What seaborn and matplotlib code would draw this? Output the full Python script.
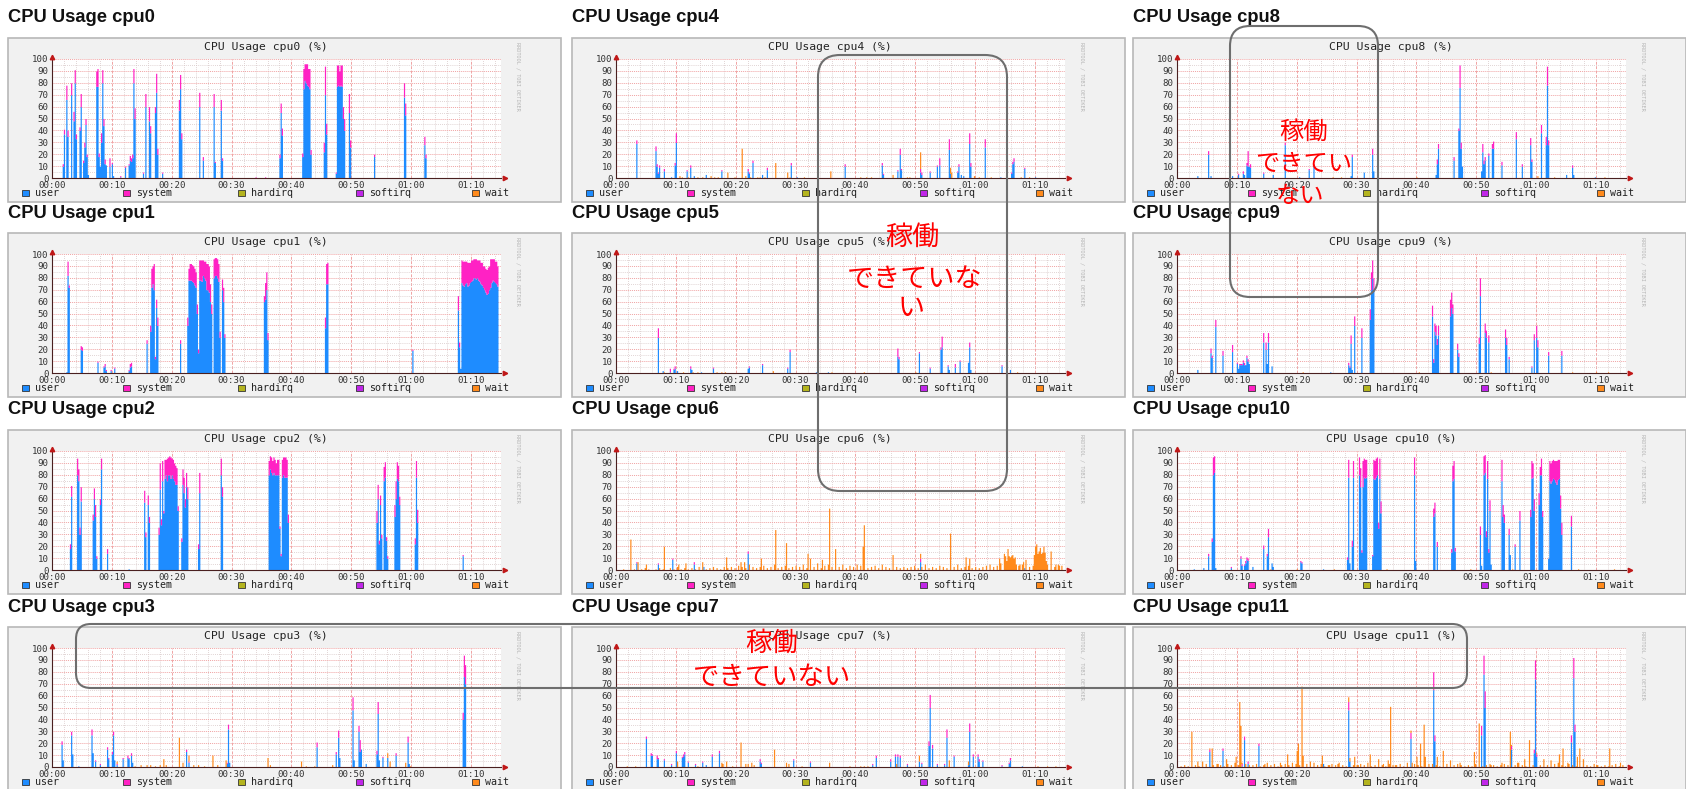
import numpy as np
import pandas as pd
import matplotlib
matplotlib.use("Agg")
import matplotlib.pyplot as plt
import seaborn as sns
from matplotlib.patches import Rectangle, FancyBboxPatch
from matplotlib.transforms import IdentityTransform

sns.set_theme(style="white")
plt.rcParams["font.family"] = ["DejaVu Sans", "Noto Sans CJK JP"]

# ---------------- data ----------------
SERIES = ["user", "system", "hardirq", "softirq", "wait"]
SERIES_COLORS = ["#1e8cff", "#ff22c4", "#b4b41e", "#c026e8", "#ff8a1c"]
X_TICKS = [0, 10, 20, 30, 40, 50, 60, 70]
X_TICK_LABELS = ["00:00", "00:10", "00:20", "00:30", "00:40", "00:50", "01:00", "01:10"]
Y_TICKS = [0, 10, 20, 30, 40, 50, 60, 70, 80, 90, 100]
NOTE_TEXT_1 = ["稼働", "できていな", "い"]
NOTE_TEXT_2 = ["稼働", "できてい", "ない"]
NOTE_TEXT_3 = ["稼働", "できていない"]

# minutes since 00:00, user %, system %
cpu0_t = [1.8, 2.0, 2.4, 2.6, 3.2, 3.6, 3.8, 4.0, 4.6, 4.8,
          5.2, 5.4, 5.6, 5.8, 6.0, 7.4, 7.6, 7.8, 8.0, 8.2,
          8.4, 8.6, 8.8, 9.0, 9.6, 10.0, 10.2, 11.4, 12.2, 12.8,
          13.0, 13.2, 13.4, 13.6, 13.8, 15.2, 15.6, 16.2, 16.4, 17.2,
          17.4, 17.6, 18.4, 21.2, 21.4, 21.6, 24.6, 25.2, 27.0, 27.2,
          28.2, 28.4, 34.0, 35.6, 38.0, 38.2, 38.4, 41.8, 42.0, 42.2,
          42.4, 42.6, 42.8, 43.0, 43.2, 45.4, 45.6, 45.8, 47.4, 47.6,
          47.8, 48.0, 48.2, 48.4, 48.6, 48.8, 49.6, 49.8, 53.8, 58.8,
          59.0, 62.2, 62.4]
cpu0_user = [10, 37, 66, 35, 70, 48, 80, 33, 40, 60,
             13, 26, 45, 18, 3, 77, 77, 18, 10, 30,
             80, 44, 12, 11, 10, 12, 2, 1, 9, 11,
             15, 14, 17, 80, 50, 4, 60, 48, 38, 55,
             72, 20, 4, 57, 75, 33, 60, 15, 60, 13,
             57, 15, 0, 0, 17, 55, 36, 18, 75, 82,
             80, 78, 77, 75, 20, 22, 70, 37, 4, 77,
             78, 77, 78, 77, 50, 40, 55, 26, 18, 68,
             53, 28, 17]
cpu0_sys = [2, 4, 12, 5, 10, 8, 11, 4, 3, 11,
            2, 4, 5, 2, 0, 13, 15, 3, 0, 8,
            11, 6, 4, 0, 7, 1, 0, 1, 1, 1,
            4, 3, 3, 12, 9, 1, 11, 12, 6, 5,
            16, 5, 1, 9, 12, 5, 12, 3, 11, 1,
            9, 2, 1, 1, 3, 8, 6, 3, 17, 14,
            16, 18, 15, 17, 4, 8, 24, 9, 1, 18,
            17, 13, 17, 18, 10, 10, 16, 6, 2, 12,
            10, 7, 3]
cpu0_wait_t = []
cpu0_wait = []

cpu1_t = [2.4, 2.6, 2.8, 4.8, 5.0, 7.6, 8.6, 8.8, 9.0, 9.8,
          10.4, 12.8, 13.0, 13.2, 15.8, 16.4, 16.6, 16.8, 17.0, 17.2,
          17.4, 17.6, 21.4, 22.6, 22.8, 23.0, 23.2, 23.4, 23.6, 23.8,
          24.0, 24.2, 24.4, 24.6, 24.8, 25.0, 25.2, 25.4, 25.6, 25.8,
          26.0, 26.2, 26.4, 26.6, 27.0, 27.2, 27.4, 27.6, 27.8, 28.0,
          28.4, 28.6, 28.8, 35.4, 35.6, 35.8, 36.0, 45.6, 45.8, 46.0,
          60.2, 67.8, 68.0, 68.2, 68.4, 68.6, 68.8, 69.0, 69.2, 69.4,
          69.6, 69.8, 70.0, 70.2, 70.4, 70.6, 70.8, 71.0, 71.2, 71.4,
          71.6, 71.8, 72.0, 72.2, 72.4, 72.6, 72.8, 73.0, 73.2, 73.4,
          73.6, 73.8, 74.0, 74.2, 74.4]
cpu1_user = [1, 82, 72, 20, 19, 9, 5, 6, 2, 2,
             4, 2, 5, 6, 25, 35, 72, 75, 70, 12,
             55, 40, 25, 40, 78, 78, 78, 77, 76, 74,
             72, 50, 17, 78, 78, 77, 82, 80, 78, 70,
             70, 68, 60, 50, 80, 82, 82, 80, 77, 30,
             70, 60, 30, 60, 62, 70, 28, 38, 75, 75,
             19, 53, 22, 4, 76, 74, 73, 75, 76, 73,
             74, 76, 77, 78, 80, 80, 79, 80, 78, 77,
             75, 74, 72, 70, 68, 66, 67, 70, 72, 76,
             78, 77, 76, 75, 73]
cpu1_sys = [0, 12, 2, 3, 3, 1, 1, 2, 1, 1,
            1, 1, 3, 3, 3, 5, 16, 15, 22, 2,
            7, 7, 3, 7, 10, 14, 14, 14, 14, 14,
            13, 8, 3, 17, 17, 18, 13, 14, 16, 22,
            22, 22, 15, 8, 16, 15, 15, 16, 15, 5,
            9, 12, 3, 5, 14, 15, 6, 9, 17, 18,
            1, 12, 4, 0, 19, 20, 21, 19, 18, 20,
            19, 17, 18, 17, 16, 16, 17, 15, 17, 18,
            18, 19, 18, 20, 20, 21, 22, 20, 24, 20,
            18, 19, 18, 19, 17]
cpu1_wait_t = []
cpu1_wait = []

cpu2_t = [3.0, 3.2, 4.2, 4.4, 4.6, 4.8, 6.8, 7.0, 7.2, 7.4,
          8.0, 8.2, 9.2, 12.8, 15.4, 15.6, 16.0, 16.2, 17.8, 18.0,
          18.2, 18.4, 18.6, 18.8, 19.0, 19.2, 19.4, 19.6, 19.8, 20.0,
          20.2, 20.4, 20.6, 20.8, 21.0, 21.6, 21.8, 22.0, 22.2, 22.4,
          22.6, 24.4, 24.6, 28.2, 28.4, 36.2, 36.4, 36.6, 36.8, 37.0,
          37.2, 37.4, 37.6, 37.8, 38.0, 38.2, 38.4, 38.6, 38.8, 39.0,
          39.2, 39.4, 54.2, 54.4, 54.6, 54.8, 55.0, 55.4, 55.6, 55.8,
          56.0, 57.2, 57.4, 57.6, 57.8, 58.0, 60.6, 60.8, 61.0, 68.6]
cpu2_user = [18, 62, 80, 75, 30, 58, 42, 60, 45, 10,
             55, 85, 14, 1, 57, 28, 55, 40, 30, 68,
             38, 75, 48, 77, 80, 75, 80, 80, 77, 80,
             77, 75, 72, 72, 50, 24, 72, 65, 53, 70,
             60, 18, 65, 80, 62, 80, 85, 82, 80, 82,
             80, 80, 80, 80, 35, 12, 78, 80, 78, 78,
             78, 40, 40, 60, 22, 55, 27, 75, 78, 25,
             10, 45, 60, 77, 75, 55, 22, 78, 40, 12]
cpu2_sys = [4, 9, 14, 10, 6, 12, 5, 9, 10, 2,
            5, 9, 4, 0, 10, 4, 8, 5, 6, 22,
            5, 17, 2, 16, 13, 19, 15, 16, 18, 14,
            16, 15, 16, 14, 4, 3, 13, 13, 7, 12,
            10, 4, 17, 14, 8, 12, 11, 13, 12, 13,
            13, 10, 13, 13, 2, 2, 15, 15, 17, 17,
            15, 7, 10, 12, 3, 8, 3, 12, 13, 3,
            2, 10, 15, 14, 13, 7, 5, 14, 11, 1]
cpu2_wait_t = []
cpu2_wait = []

cpu3_t = [1.6, 1.8, 3.2, 3.4, 4.4, 6.6, 6.8, 7.2, 8.0, 9.2,
          9.4, 10.0, 10.2, 10.4, 10.8, 11.8, 12.6, 12.8, 13.2, 13.4,
          22.4, 22.8, 29.2, 29.4, 29.6, 44.2, 47.4, 47.8, 48.0, 50.2,
          50.4, 51.2, 51.4, 51.6, 52.4, 54.2, 54.4, 54.6, 55.2, 56.0,
          57.4, 59.4, 59.6, 68.6, 68.8, 69.0]
cpu3_user = [19, 6, 27, 11, 1, 27, 12, 5, 2, 15,
             7, 11, 27, 6, 2, 7, 8, 7, 10, 4,
             13, 4, 3, 32, 4, 17, 11, 25, 8, 48,
             6, 30, 13, 15, 3, 11, 45, 6, 8, 8,
             10, 21, 3, 40, 76, 70]
cpu3_sys = [3, 0, 3, 0, 0, 5, 0, 1, 1, 2,
            1, 2, 3, 0, 1, 1, 2, 1, 2, 0,
            2, 1, 1, 4, 0, 4, 2, 6, 0, 11,
            0, 5, 10, 0, 0, 3, 10, 0, 1, 0,
            2, 5, 0, 6, 18, 16]
cpu3_wait_t = [10.8, 13.8, 14.8, 15.8, 16.4, 17.2, 18.0, 18.6, 19.0, 21.2,
               21.8, 22.8, 23.6, 24.4, 25.4, 26.8, 27.6, 29.0, 36.0, 36.4,
               41.6, 42.4, 43.8, 46.8, 56.0, 56.4, 59.0, 59.8]
cpu3_wait = [2, 1, 2, 2, 2, 1, 2, 7, 2, 25,
             4, 5, 2, 2, 1, 10, 2, 6, 8, 2,
             5, 1, 1, 2, 4, 5, 4, 1]

cpu4_t = [3.4, 6.6, 6.8, 7.0, 7.2, 8.0, 9.2, 9.8, 10.0, 11.8,
          12.4, 13.0, 15.0, 17.6, 22.0, 22.2, 22.8, 24.4, 25.2, 29.2,
          30.2, 38.2, 44.4, 44.6, 47.0, 47.4, 47.6, 50.8, 51.0, 52.4,
          53.6, 54.0, 55.6, 55.8, 57.0, 57.2, 57.6, 58.0, 59.0, 59.2,
          61.6, 64.2, 66.0, 66.2, 66.4, 68.2, 70.0]
cpu4_user = [29, 23, 10, 4, 9, 6, 1, 11, 30, 6,
             9, 2, 3, 6, 6, 4, 13, 3, 7, 11,
             1, 10, 11, 3, 6, 20, 7, 5, 3, 5,
             10, 11, 24, 4, 5, 10, 3, 2, 29, 10,
             26, 1, 4, 12, 14, 8, 1]
cpu4_sys = [3, 4, 2, 1, 2, 2, 0, 2, 8, 1,
            2, 0, 0, 1, 2, 1, 2, 0, 2, 2,
            0, 2, 2, 1, 1, 5, 1, 3, 2, 1,
            1, 6, 9, 0, 1, 2, 0, 0, 9, 3,
            7, 0, 1, 2, 3, 1, 0]
cpu4_wait_t = [10.6, 11.0, 12.0, 13.6, 14.4, 15.8, 16.4, 17.0, 18.6, 19.8,
               21.0, 21.6, 22.4, 23.6, 24.0, 24.8, 26.6, 28.6, 29.0, 31.4,
               35.8, 40.8, 41.8, 42.6, 46.2, 48.6, 49.0, 50.8, 55.8, 56.0,
               59.8, 60.6, 62.6, 67.6, 69.0]
cpu4_wait = [2, 1, 1, 1, 1, 2, 1, 1, 5, 1,
             25, 2, 1, 1, 1, 1, 13, 5, 1, 1,
             6, 1, 1, 1, 3, 1, 1, 14, 5, 5,
             2, 1, 1, 1, 1]

cpu5_t = [7.0, 7.8, 9.0, 9.6, 9.8, 10.2, 12.4, 12.6, 14.2, 16.2,
          22.0, 22.2, 24.4, 28.6, 29.0, 33.4, 35.4, 47.0, 47.2, 50.6,
          52.4, 54.2, 54.4, 55.4, 55.6, 56.6, 57.4, 58.8, 59.0, 59.2,
          64.4, 65.8]
cpu5_user = [30, 2, 1, 3, 4, 2, 4, 3, 1, 4,
             4, 5, 7, 4, 18, 1, 1, 14, 12, 17,
             4, 20, 22, 6, 3, 5, 10, 9, 22, 3,
             6, 3]
cpu5_sys = [8, 0, 3, 1, 2, 0, 2, 0, 0, 1,
            0, 1, 1, 1, 2, 0, 0, 7, 2, 1,
            1, 2, 9, 1, 0, 3, 1, 0, 4, 0,
            1, 0]
cpu5_wait_t = [8.0, 11.2, 12.8, 13.6, 16.8, 17.6, 18.2, 26.2, 36.0, 41.4, 50.0, 67.0]
cpu5_wait = [1, 1, 1, 1, 1, 1, 1, 2, 1, 1, 1, 1]

cpu6_t = [3.4, 7.0, 9.4, 13.0, 14.6, 22.0, 50.8, 68.2]
cpu6_user = [6, 5, 9, 5, 3, 14, 7, 2]
cpu6_sys = [1, 1, 1, 2, 0, 2, 3, 0]
cpu6_wait_t = [2.4, 3.6, 5.0, 8.0, 10.4, 11.6, 14.4, 18.4, 20.8, 21.4,
               24.2, 26.6, 28.4, 32.0, 32.4, 34.4, 35.6, 36.6, 41.2, 41.4,
               46.2, 50.8, 55.8, 58.4, 59.0, 64.0, 64.8, 65.0, 65.2, 65.4,
               65.6, 65.8, 66.0, 66.2, 66.4, 66.6, 66.8, 67.4, 68.0, 68.4,
               69.8, 70.0, 70.2, 70.4, 70.6, 70.8, 71.0, 71.2, 71.4, 71.6,
               71.8, 72.6, 73.4, 74.0]
cpu6_wait = [24, 7, 5, 20, 5, 6, 5, 11, 7, 7,
             10, 34, 23, 14, 6, 9, 52, 14, 20, 35,
             9, 4, 27, 11, 10, 10, 10, 12, 8, 15,
             12, 11, 10, 13, 10, 8, 5, 5, 7, 5,
             13, 20, 17, 14, 16, 15, 14, 15, 14, 15,
             8, 12, 5, 4]
# low background wait level, sampled every 0.6 min
cpu6_wait_floor = [0, 1, 0, 2, 1, 0, 1, 2, 1, 0,
                   1, 2, 1, 0, 2, 1, 3, 1, 2, 1,
                   2, 1, 3, 2, 1, 2, 3, 2, 1, 3,
                   2, 3, 2, 4, 3, 2, 5, 3, 2, 3,
                   4, 2, 3, 5, 2, 3, 4, 2, 3, 4,
                   3, 5, 2, 4, 3, 6, 2, 4, 5, 3,
                   4, 3, 5, 2, 4, 3, 5, 4, 3, 2,
                   3, 4, 2, 5, 3, 2, 4, 3, 2, 3,
                   2, 3, 4, 2, 3, 5, 2, 3, 2, 4,
                   3, 2, 4, 3, 5, 2, 3, 4, 2, 3,
                   2, 3, 4, 5, 3, 4, 6, 4, 3, 2,
                   3, 4, 5, 4, 3, 4, 5, 4, 6, 5,
                   4, 3, 5, 4]

cpu7_t = [5.0, 5.8, 6.0, 6.8, 7.0, 8.0, 9.2, 10.0, 11.0, 11.2,
          11.4, 12.0, 13.2, 14.4, 15.0, 16.0, 17.2, 24.0, 24.2, 29.6,
          32.4, 42.8, 43.4, 45.8, 46.6, 47.0, 47.4, 48.6, 50.6, 51.0,
          52.2, 52.4, 52.8, 53.6, 54.8, 55.2, 56.4, 58.8, 59.0, 59.6,
          60.4, 60.6, 61.2, 64.4, 65.6, 65.8, 67.8]
cpu7_user = [24, 10, 10, 7, 7, 6, 2, 12, 8, 9,
             11, 4, 2, 4, 2, 9, 12, 5, 3, 6,
             4, 2, 8, 5, 9, 9, 8, 2, 5, 3,
             18, 50, 16, 2, 2, 25, 9, 2, 30, 9,
             9, 5, 5, 1, 3, 6, 1]
cpu7_sys = [2, 2, 1, 3, 1, 1, 1, 2, 1, 2,
            2, 1, 1, 1, 0, 2, 2, 2, 1, 1,
            1, 1, 2, 2, 2, 2, 2, 1, 0, 1,
            4, 11, 3, 1, 1, 7, 1, 0, 7, 2,
            2, 2, 1, 1, 1, 2, 0]
cpu7_wait_t = [1.8, 3.2, 10.2, 13.6, 17.6, 17.8, 18.4, 19.4, 20.8, 21.6,
               22.0, 22.6, 23.0, 26.4, 28.4, 28.8, 31.0, 35.6, 39.0, 40.8,
               41.4, 42.0, 46.8, 50.6, 55.6, 58.8, 70.4, 72.0, 73.4]
cpu7_wait = [1, 1, 5, 1, 4, 3, 5, 1, 21, 3,
             3, 4, 2, 15, 4, 3, 1, 4, 1, 1,
             1, 1, 3, 5, 6, 3, 1, 1, 1]

cpu8_t = [3.4, 5.2, 5.6, 9.2, 10.2, 11.0, 11.2, 11.6, 11.8, 12.0,
          12.2, 14.4, 16.0, 18.0, 20.4, 22.0, 22.8, 29.0, 29.2, 31.2,
          32.6, 32.8, 43.2, 43.4, 43.6, 46.2, 47.0, 47.2, 47.4, 47.6,
          50.8, 51.0, 51.2, 51.4, 52.0, 52.6, 52.8, 54.2, 56.6, 57.6,
          59.0, 59.2, 60.8, 61.6, 61.8, 62.0, 65.0, 66.0, 66.2, 69.8]
cpu8_user = [2, 20, 2, 2, 3, 4, 3, 11, 10, 10,
             9, 4, 3, 28, 1, 7, 11, 2, 18, 5,
             20, 6, 3, 12, 25, 15, 40, 76, 25, 10,
             6, 22, 12, 15, 19, 25, 25, 11, 33, 10,
             28, 14, 38, 28, 78, 28, 3, 9, 3, 1]
cpu8_sys = [0, 3, 0, 0, 1, 2, 0, 2, 13, 0,
            3, 1, 0, 2, 0, 1, 1, 0, 2, 0,
            5, 0, 0, 4, 4, 3, 2, 19, 5, 0,
            0, 7, 3, 3, 2, 4, 6, 3, 6, 2,
            6, 2, 7, 7, 16, 4, 0, 2, 0, 0]
cpu8_wait_t = [26.0, 27.4, 40.0, 60.2, 63.0, 71.4]
cpu8_wait = [1, 1, 1, 2, 1, 1]

cpu9_t = [3.4, 5.6, 5.8, 6.4, 7.6, 9.2, 10.0, 10.2, 10.4, 10.6,
          10.8, 11.0, 11.2, 11.4, 11.6, 11.8, 12.0, 14.4, 14.8, 15.0,
          15.2, 15.8, 25.6, 28.6, 28.8, 29.0, 29.2, 29.6, 30.8, 32.2,
          32.4, 32.6, 32.8, 42.6, 42.8, 43.0, 43.2, 43.4, 43.6, 45.6,
          45.8, 46.0, 46.8, 47.0, 50.4, 50.6, 51.4, 51.6, 52.0, 54.8,
          55.0, 55.4, 59.2, 59.6, 60.0, 60.2, 62.0, 64.2]
cpu9_user = [3, 17, 13, 39, 15, 18, 8, 4, 7, 7,
             7, 9, 7, 7, 13, 10, 8, 26, 20, 8,
             26, 6, 1, 7, 5, 25, 3, 40, 30, 45,
             70, 80, 70, 48, 9, 35, 32, 24, 32, 48,
             55, 50, 20, 14, 25, 65, 34, 30, 26, 30,
             24, 12, 5, 28, 30, 22, 15, 15]
cpu9_sys = [0, 4, 2, 6, 4, 6, 1, 0, 1, 1,
            1, 2, 2, 0, 2, 2, 0, 8, 6, 0,
            8, 0, 0, 2, 1, 7, 0, 8, 8, 9,
            15, 15, 10, 9, 3, 7, 8, 5, 8, 14,
            13, 8, 5, 3, 5, 15, 8, 6, 6, 7,
            6, 2, 1, 5, 10, 6, 3, 4]
cpu9_wait_t = [21.0, 40.4, 52.4, 66.0, 70.0, 72.0]
cpu9_wait = [1, 1, 1, 1, 1, 1]

cpu10_t = [2.8, 4.4, 5.2, 5.8, 6.0, 6.2, 6.4, 9.0, 10.6, 10.8,
           11.2, 11.4, 11.6, 11.8, 12.6, 14.4, 15.0, 15.2, 15.8, 16.0,
           20.6, 20.8, 24.4, 28.4, 28.6, 28.8, 29.2, 29.4, 30.4, 30.6,
           30.8, 31.0, 31.2, 31.4, 31.6, 32.6, 32.8, 33.0, 33.2, 33.4,
           33.6, 33.8, 34.0, 39.6, 39.8, 42.8, 43.0, 43.4, 45.8, 46.0,
           46.2, 46.4, 50.6, 50.8, 51.2, 51.4, 51.6, 51.8, 52.0, 52.2,
           52.4, 54.2, 54.4, 54.6, 55.4, 55.6, 56.4, 57.2, 59.0, 59.2,
           59.4, 59.6, 60.4, 60.6, 60.8, 61.0, 62.0, 62.2, 62.4, 62.6,
           62.8, 63.0, 63.2, 63.4, 63.6, 63.8, 64.0, 64.2, 65.8]
cpu10_user = [1, 2, 12, 24, 80, 82, 2, 2, 10, 4,
              4, 6, 9, 8, 3, 18, 12, 28, 6, 3,
              7, 6, 1, 9, 78, 6, 20, 78, 80, 70,
              15, 70, 78, 77, 78, 12, 77, 76, 78, 80,
              35, 77, 48, 80, 8, 45, 48, 20, 15, 75,
              77, 16, 30, 4, 80, 82, 28, 77, 15, 50,
              5, 75, 45, 40, 30, 13, 20, 42, 45, 77,
              78, 50, 55, 80, 80, 45, 10, 75, 73, 75,
              77, 76, 74, 72, 76, 77, 52, 30, 37]
cpu10_sys = [0, 0, 2, 3, 15, 14, 0, 1, 2, 1,
             1, 2, 2, 2, 0, 3, 2, 7, 0, 0,
             1, 1, 0, 2, 15, 0, 5, 14, 15, 16,
             2, 22, 16, 16, 15, 1, 16, 16, 16, 15,
             5, 17, 10, 15, 0, 7, 9, 4, 3, 13,
             15, 3, 7, 0, 16, 15, 5, 15, 3, 9,
             0, 18, 10, 7, 5, 0, 2, 8, 6, 15,
             12, 10, 10, 7, 14, 5, 0, 17, 17, 17,
             16, 16, 18, 20, 17, 16, 11, 10, 9]
cpu10_wait_t = [15.6, 20.0, 26.2, 35.0, 49.0, 56.0, 67.0, 73.0]
cpu10_wait = [1, 1, 1, 1, 1, 1, 1, 1]

cpu11_t = [5.4, 7.6, 10.8, 11.2, 11.8, 13.6, 24.4, 28.6, 28.8, 39.0,
           42.8, 43.0, 50.8, 51.2, 51.4, 55.8, 59.6, 59.8, 60.0, 65.8,
           66.2, 66.4]
cpu11_user = [13, 14, 1, 23, 3, 18, 3, 48, 5, 24,
              65, 22, 27, 78, 50, 15, 12, 74, 9, 21,
              75, 30]
cpu11_sys = [2, 2, 2, 3, 2, 2, 0, 7, 0, 5,
             15, 5, 8, 16, 14, 3, 3, 16, 2, 6,
             17, 6]
cpu11_wait_t = [2.4, 3.4, 4.2, 5.8, 6.8, 8.2, 9.8, 10.4, 10.6, 14.6,
                17.2, 18.4, 20.0, 20.2, 20.8, 21.0, 22.2, 24.2, 25.4, 26.8,
                28.6, 29.6, 30.2, 32.2, 33.6, 34.4, 35.2, 35.6, 36.4, 39.2,
                40.0, 40.6, 41.2, 41.4, 43.4, 44.4, 45.6, 47.2, 49.6, 50.4,
                52.4, 54.2, 55.6, 56.8, 58.0, 58.8, 61.2, 62.4, 63.8, 64.4,
                65.2, 66.8, 67.2, 67.8, 70.0, 72.2, 74.0]
cpu11_wait = [27, 5, 3, 16, 3, 7, 9, 55, 35, 3,
              4, 11, 14, 20, 68, 9, 3, 10, 2, 3,
              4, 9, 2, 11, 4, 3, 6, 51, 2, 4,
              9, 20, 36, 7, 9, 12, 5, 4, 13, 35,
              2, 4, 30, 4, 7, 20, 4, 5, 11, 16,
              4, 9, 14, 4, 2, 16, 4]
cpu11_wait_floor = [1, 2, 1, 3, 2, 1, 2, 3, 1, 2,
                    3, 2, 1, 3, 2, 4, 2, 1, 3, 2,
                    2, 3, 1, 2, 4, 2, 3, 1, 2, 3,
                    2, 4, 3, 2, 1, 3, 2, 4, 2, 3,
                    1, 2, 3, 2, 4, 2, 1, 3, 2, 2,
                    3, 2, 4, 1, 2, 3, 2, 1, 3, 2,
                    2, 3, 1, 4, 2, 3, 2, 1, 2, 3,
                    3, 2, 1, 2, 3, 1, 2, 3, 2, 1,
                    2, 1, 3, 2, 1, 2, 3, 2, 1, 2,
                    3, 2, 1, 2, 4, 2, 1, 3, 2, 1,
                    2, 3, 2, 1, 3, 4, 2, 1, 3, 2,
                    1, 2, 3, 2, 1, 3, 2, 1, 2, 1,
                    2, 3, 1, 2]
FLOOR_STEP = 0.6  # sampling interval (min) of the *_wait_floor series

CPU_DATA = [
    (cpu0_t, cpu0_user, cpu0_sys, cpu0_wait_t, cpu0_wait, None),
    (cpu1_t, cpu1_user, cpu1_sys, cpu1_wait_t, cpu1_wait, None),
    (cpu2_t, cpu2_user, cpu2_sys, cpu2_wait_t, cpu2_wait, None),
    (cpu3_t, cpu3_user, cpu3_sys, cpu3_wait_t, cpu3_wait, None),
    (cpu4_t, cpu4_user, cpu4_sys, cpu4_wait_t, cpu4_wait, None),
    (cpu5_t, cpu5_user, cpu5_sys, cpu5_wait_t, cpu5_wait, None),
    (cpu6_t, cpu6_user, cpu6_sys, cpu6_wait_t, cpu6_wait, cpu6_wait_floor),
    (cpu7_t, cpu7_user, cpu7_sys, cpu7_wait_t, cpu7_wait, None),
    (cpu8_t, cpu8_user, cpu8_sys, cpu8_wait_t, cpu8_wait, None),
    (cpu9_t, cpu9_user, cpu9_sys, cpu9_wait_t, cpu9_wait, None),
    (cpu10_t, cpu10_user, cpu10_sys, cpu10_wait_t, cpu10_wait, None),
    (cpu11_t, cpu11_user, cpu11_sys, cpu11_wait_t, cpu11_wait, cpu11_wait_floor),
]

# ---------------- layout (pixels) ----------------
W, H = 1686, 789
COL_X = [8, 572, 1133]
ROW_Y = [38, 233, 430, 627]
FRAME_W, FRAME_H = 553, 164
PLOT_DX, PLOT_DY, PLOT_W, PLOT_H = 44, 21, 449, 119
LEG_X = [14, 115, 230, 348, 464]
PAL = dict(zip(SERIES, SERIES_COLORS))
MONO = "DejaVu Sans Mono"

fig = plt.figure(figsize=(W / 100, H / 100), dpi=100)
fig.patch.set_facecolor("white")
ident = IdentityTransform()


def fx_(x):
    return x / W


def fy_(y):
    return 1 - y / H


for idx, (t, u, s, wt, wv, floor) in enumerate(CPU_DATA):
    col, row = divmod(idx, 4)
    fx, fy = COL_X[col], ROW_Y[row]
    name = f"cpu{idx}"

    # frame of the rrd image
    fig.add_artist(Rectangle((fx, H - fy - FRAME_H), FRAME_W, FRAME_H, transform=ident,
                             facecolor="#f1f1f1", edgecolor="#b8b8b8", lw=1.2, zorder=-10))
    # heading above the image
    fig.text(fx_(fx), fy_(fy - 20), f"CPU Usage {name}", ha="left", va="center",
             family="Liberation Sans", weight="bold", size=13.2, color="#111111")
    # image title
    fig.text(fx_(fx + 258), fy_(fy + 9), f"CPU Usage {name} (%)", ha="center", va="center",
             family=MONO, size=8.2, color="#222222")
    # watermark
    fig.text(fx_(fx + 510), fy_(fy + 38), "RRDTOOL / TOBI OETIKER", rotation=270,
             ha="center", va="center", family=MONO, size=3.8, color="#b5b5b5")

    # legend
    for name_s, col_s, lx in zip(SERIES, SERIES_COLORS, LEG_X):
        fig.add_artist(Rectangle((fx + lx, H - (fy + 155) - 3), 7, 6, transform=ident,
                                 facecolor=col_s, edgecolor="#333333", lw=0.6, zorder=2))
        fig.text(fx_(fx + lx + 13), fy_(fy + 155), name_s, ha="left", va="center",
                 family=MONO, size=7.2, color="#222222")

    ax = fig.add_axes([fx_(fx + PLOT_DX), fy_(fy + PLOT_DY + PLOT_H), PLOT_W / W, PLOT_H / H])
    ax.set_facecolor("white")

    tt = list(t) + list(t) + list(wt)
    vv = list(u) + list(s) + list(wv)
    kk = ["user"] * len(t) + ["system"] * len(t) + ["wait"] * len(wt)
    if floor is not None:
        ft = list(np.round(np.arange(1, len(floor) + 1) * FLOOR_STEP, 1))
        tt += ft
        vv += list(floor)
        kk += ["wait"] * len(floor)
    df = pd.DataFrame({"t": tt, "v": vv, "kind": kk})

    sns.histplot(data=df, x="t", weights="v", hue="kind",
                 hue_order=["wait", "system", "user"], palette=PAL,
                 multiple="stack", element="step", fill=True, alpha=1,
                 binwidth=0.2, binrange=(-0.1, 74.9), linewidth=0,
                 legend=False, ax=ax)

    ax.set_xlim(0, 75)
    ax.set_ylim(0, 100)
    ax.set_xlabel("")
    ax.set_ylabel("")
    ax.set_xticks(X_TICKS)
    ax.set_xticklabels(X_TICK_LABELS)
    ax.set_xticks(np.arange(0, 75, 2), minor=True)
    ax.set_yticks(Y_TICKS)
    ax.set_yticklabels([str(v) for v in Y_TICKS])
    ax.set_yticks(np.arange(0, 101, 5), minor=True)
    ax.tick_params(axis="both", which="both", length=0)
    ax.tick_params(axis="x", pad=2.4, labelsize=6.6, labelcolor="#333333")
    ax.tick_params(axis="y", pad=2.5, labelsize=6.6, labelcolor="#333333")
    for lab in ax.get_xticklabels() + ax.get_yticklabels():
        lab.set_family(MONO)
    ax.set_axisbelow(True)
    ax.grid(which="minor", axis="both", color="#d6c6c6", lw=0.6, ls=(0, (1, 1.5)))
    ax.grid(which="major", axis="x", color="#f0a4a4", lw=0.7, ls=(0, (3, 1.5)))
    ax.grid(which="major", axis="y", color="#f0a4a4", lw=0.7, ls=(0, (1, 1)))
    for side in ["top", "right"]:
        ax.spines[side].set_visible(False)
    for side in ["left", "bottom"]:
        ax.spines[side].set_color("#4a2020")
        ax.spines[side].set_linewidth(0.8)
    ax.plot([0], [102], marker="^", ms=3.2, color="#c01818", clip_on=False, zorder=5)
    ax.plot([75.6], [0], marker=">", ms=3.2, color="#c01818", clip_on=False, zorder=5)

# ---------------- hand-drawn notes ----------------
NOTE_RED = "#ff0000"
BOX_COLOR = "#6e6e6e"
CJK = ["Noto Sans CJK JP"]

for (x0, y0, x1, y1, r) in [(818, 55, 1007, 491, 22), (1230, 26, 1378, 297, 20), (76, 624, 1467, 688, 15)]:
    fig.add_artist(FancyBboxPatch((x0, H - y1), x1 - x0, y1 - y0,
                                  boxstyle=f"round,pad=0,rounding_size={r}",
                                  transform=ident, fill=False, edgecolor=BOX_COLOR,
                                  lw=1.5, zorder=20))

for txt, (x, y) in zip(NOTE_TEXT_1, [(912, 238), (915, 279), (911, 309)]):
    fig.text(fx_(x), fy_(y), txt, ha="center", va="center", color=NOTE_RED,
             family=CJK, size=19.5, zorder=21)
for txt, (x, y) in zip(NOTE_TEXT_2, [(1303, 132), (1304, 164), (1300, 196)]):
    fig.text(fx_(x), fy_(y), txt, ha="center", va="center", color=NOTE_RED,
             family=CJK, size=17.5, zorder=21)
for txt, (x, y) in zip(NOTE_TEXT_3, [(772, 643), (772, 677)]):
    fig.text(fx_(x), fy_(y), txt, ha="center", va="center", color=NOTE_RED,
             family=CJK, size=19, zorder=21)

fig.savefig("out.png", dpi=100, facecolor="white")
